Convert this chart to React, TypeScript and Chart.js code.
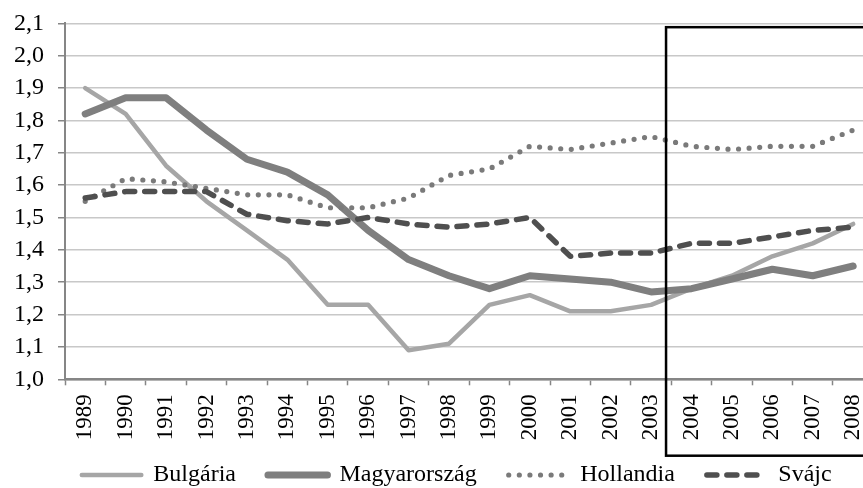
import React, { useEffect, useRef } from 'react';
import { Chart, registerables } from 'chart.js';

Chart.register(...registerables);

const YEARS = ['1989', '1990', '1991', '1992', '1993', '1994', '1995', '1996', '1997', '1998', '1999', '2000', '2001', '2002', '2003', '2004', '2005', '2006', '2007', '2008'];
const BULGARIA = [1.90, 1.82, 1.66, 1.55, 1.46, 1.37, 1.23, 1.23, 1.09, 1.11, 1.23, 1.26, 1.21, 1.21, 1.23, 1.28, 1.32, 1.38, 1.42, 1.48];
const MAGYARORSZAG = [1.82, 1.87, 1.87, 1.77, 1.68, 1.64, 1.57, 1.46, 1.37, 1.32, 1.28, 1.32, 1.31, 1.30, 1.27, 1.28, 1.31, 1.34, 1.32, 1.35];
const HOLLANDIA = [1.55, 1.62, 1.61, 1.59, 1.57, 1.57, 1.53, 1.53, 1.56, 1.63, 1.65, 1.72, 1.71, 1.73, 1.75, 1.72, 1.71, 1.72, 1.72, 1.77];
const SVAJC = [1.56, 1.58, 1.58, 1.58, 1.51, 1.49, 1.48, 1.50, 1.48, 1.47, 1.48, 1.50, 1.38, 1.39, 1.39, 1.42, 1.42, 1.44, 1.46, 1.47];
const SERIES_NAMES = ['Bulgária', 'Magyarország', 'Hollandia', 'Svájc'];
const Y_TICK_VALUES = [1.0, 1.1, 1.2, 1.3, 1.4, 1.5, 1.6, 1.7, 1.8, 1.9, 2.0, 2.1];
const Y_TICK_LABELS = ['1,0', '1,1', '1,2', '1,3', '1,4', '1,5', '1,6', '1,7', '1,8', '1,9', '2,0', '2,1'];
const HIGHLIGHT_FIRST_YEAR = '2004';
const HIGHLIGHT_TOP_VALUE = 2.088;

const FONT = "'Liberation Serif', 'Times New Roman', serif";
const X_AXIS_HEIGHT = 63;
const LEGEND_SHIFT_UP = 11.3;

export default function App() {
  const ref = useRef<HTMLCanvasElement>(null);

  useEffect(() => {
    const canvas = ref.current;
    if (!canvas) return;

    const highlightBox = {
      id: 'highlightBox',
      afterLayout(chart: any) {
        const lg = chart.legend;
        if (lg) {
          lg.top -= LEGEND_SHIFT_UP;
          lg.height += LEGEND_SHIFT_UP;
        }
      },
      afterDraw(chart: any) {
        const xs = chart.scales.x;
        const ys = chart.scales.y;
        const idx = YEARS.indexOf(HIGHLIGHT_FIRST_YEAR);
        const left = xs.getPixelForValue(idx - 0.63);
        const top = ys.getPixelForValue(HIGHLIGHT_TOP_VALUE);
        const bottom = chart.chartArea.bottom + 76.4;
        const right = chart.width - 2;
        const ctx = chart.ctx;
        ctx.save();
        ctx.strokeStyle = '#000000';
        ctx.lineWidth = 2.5;
        ctx.strokeRect(left, top, right - left, bottom - top);
        ctx.restore();
      },
    };

    const chart = new Chart(canvas, {
      type: 'line',
      data: {
        labels: YEARS,
        datasets: [
          { label: SERIES_NAMES[0], data: BULGARIA, borderColor: '#a6a6a6', backgroundColor: '#a6a6a6', borderWidth: 4.5, pointRadius: 0, tension: 0, borderJoinStyle: 'round', borderCapStyle: 'round', order: 3 },
          { label: SERIES_NAMES[1], data: MAGYARORSZAG, borderColor: '#7f7f7f', backgroundColor: '#7f7f7f', borderWidth: 7, pointRadius: 0, tension: 0, borderJoinStyle: 'round', borderCapStyle: 'round', order: 2 },
          { label: SERIES_NAMES[2], data: HOLLANDIA, borderColor: '#7a7a7a', backgroundColor: '#7a7a7a', borderWidth: 5.2, borderDash: [0, 10.6], borderCapStyle: 'round', pointRadius: 0, tension: 0, order: 1 },
          { label: SERIES_NAMES[3], data: SVAJC, borderColor: '#4f4f4f', backgroundColor: '#4f4f4f', borderWidth: 5.5, borderDash: [10, 10], borderCapStyle: 'round', borderJoinStyle: 'round', pointRadius: 0, tension: 0, order: 0 },
        ] as any,
      },
      options: {
        responsive: false,
        animation: false,
        devicePixelRatio: 1,
        layout: { padding: { top: 23.3, left: 0, right: 0.5, bottom: 0 } },
        plugins: {
          title: { display: false },
          tooltip: { enabled: false },
          legend: {
            position: 'bottom',
            maxHeight: 488 - 379.3 - X_AXIS_HEIGHT,
            labels: {
              usePointStyle: true,
              pointStyleWidth: 59.5,
              boxHeight: 24,
              padding: 32,
              color: '#000000',
              font: { family: FONT, size: 24 },
              generateLabels: (c: any) =>
                c.data.datasets.map((ds: any, i: number) => ({
                  text: ds.label,
                  fillStyle: ds.borderColor,
                  strokeStyle: ds.borderColor,
                  lineWidth: ds.borderWidth,
                  lineDash: ds.borderDash || [],
                  lineCap: 'round',
                  pointStyle: 'line',
                  hidden: false,
                  datasetIndex: i,
                  fontColor: '#000000',
                })),
            },
          },
        },
        scales: {
          x: {
            type: 'category',
            offset: true,
            grid: { display: true, drawOnChartArea: false, drawTicks: true, tickLength: 6, tickColor: '#868686', tickWidth: 1.5, offset: true },
            border: { display: true, color: '#868686', width: 2.5 },
            ticks: { autoSkip: false, minRotation: 90, maxRotation: 90, padding: 9, color: '#000000', font: { family: FONT, size: 23 } },
            afterFit: (s: any) => { s.height = X_AXIS_HEIGHT; s.paddingLeft = 0; s.paddingRight = 40.6; },
          },
          y: {
            min: 1.0,
            max: 2.1,
            afterBuildTicks: (s: any) => { s.ticks = Y_TICK_VALUES.map((v) => ({ value: v })); },
            grid: { color: '#c8c8c8', lineWidth: 1.5, tickLength: 7, tickColor: '#868686', tickWidth: 1.5 },
            border: { display: true, color: '#868686', width: 2 },
            ticks: { padding: 14, color: '#000000', font: { family: FONT, size: 24 }, callback: (_v: any, i: number) => Y_TICK_LABELS[i] },
            afterFit: (s: any) => { s.width = 65; s.paddingTop = 0; s.paddingBottom = 0; },
          },
        },
      } as any,
      plugins: [highlightBox],
    });

    return () => chart.destroy();
  }, []);

  return (
    <div style={{ position: 'fixed', left: 0, top: 0, width: 863, height: 488, overflow: 'hidden', background: '#ffffff' }}>
      <canvas ref={ref} width={914} height={488} style={{ display: 'block', width: 914, height: 488 }} />
    </div>
  );
}
